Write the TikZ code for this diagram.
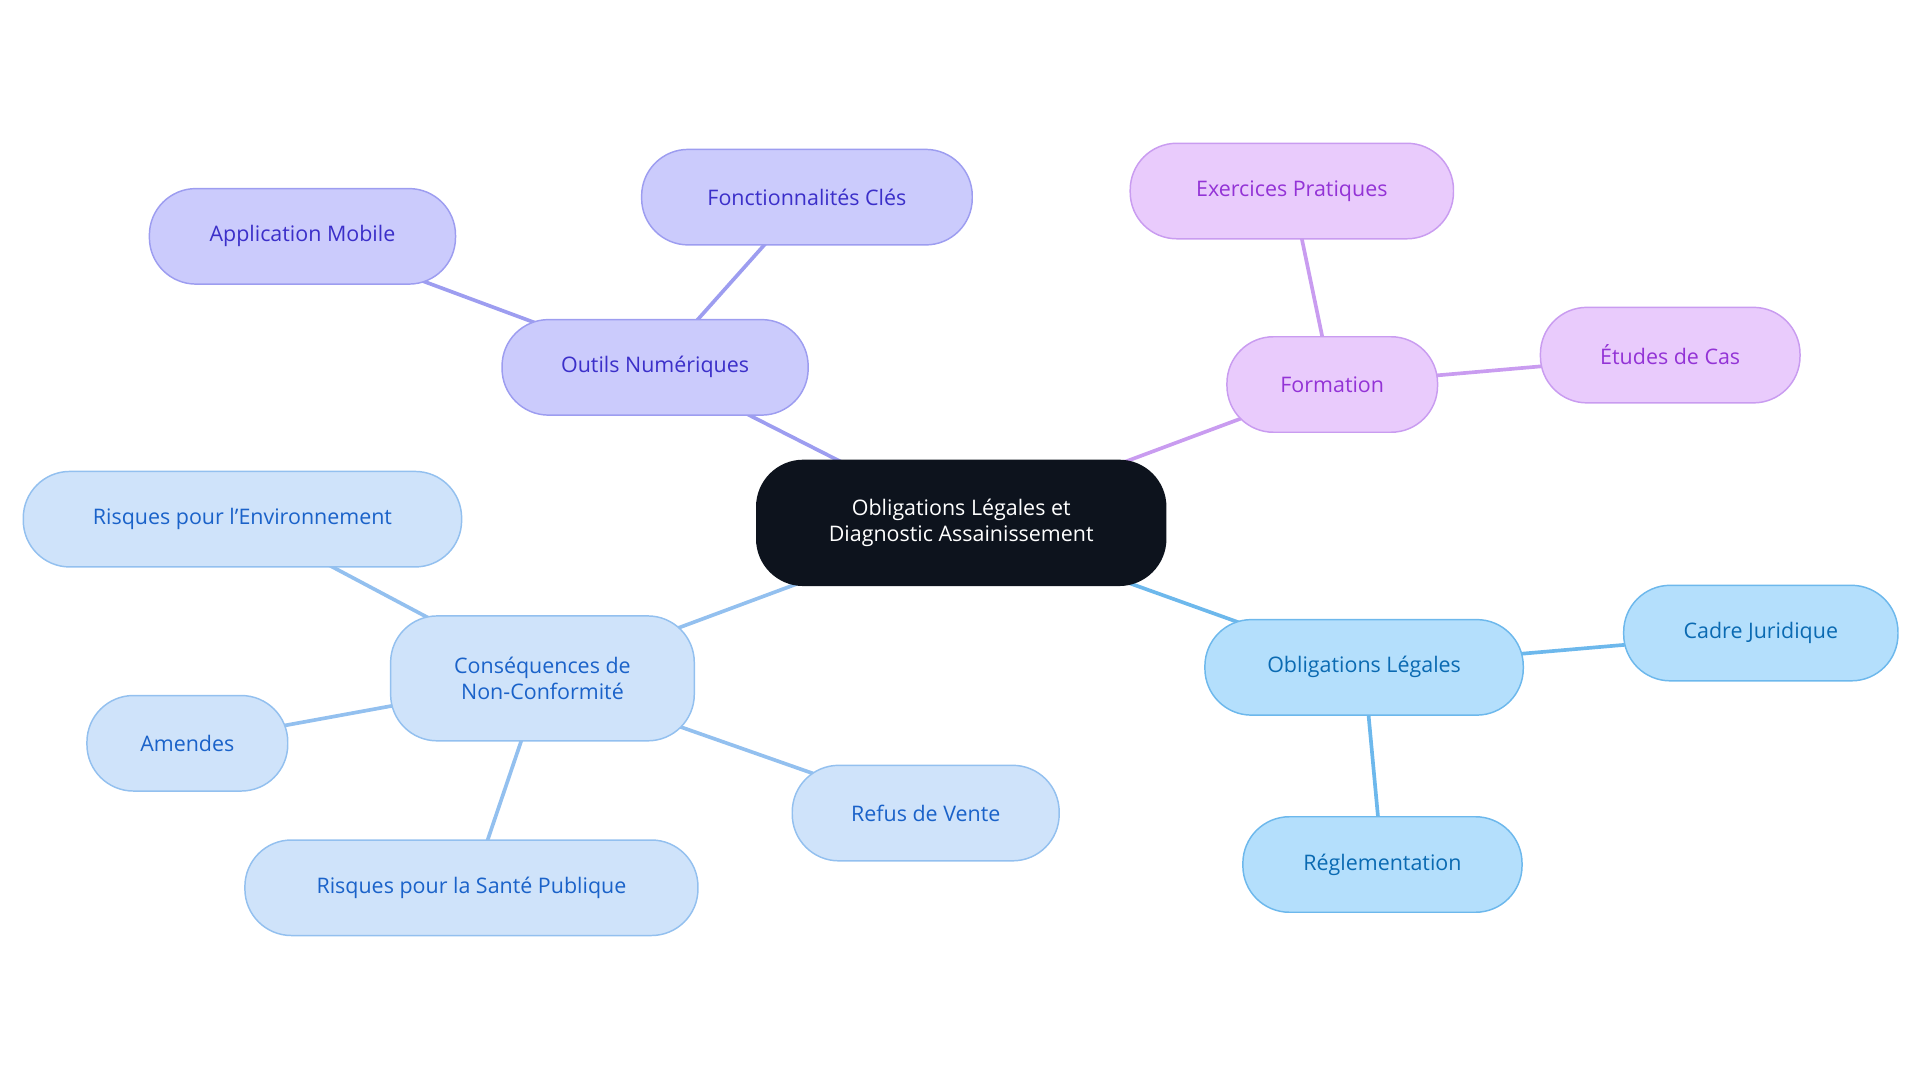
\documentclass[tikz,border=0pt]{standalone}
\usepackage{fontspec}
\setmainfont{Open Sans}
\usetikzlibrary{backgrounds}
\definecolor{cen}{HTML}{0D131D}
\definecolor{pf}{HTML}{CBCBFC}\definecolor{pb}{HTML}{9D9DF0}\definecolor{pt}{HTML}{3B2FC9}
\definecolor{mf}{HTML}{E9CBFC}\definecolor{mb}{HTML}{C99CF0}\definecolor{mt}{HTML}{9333D6}
\definecolor{lf}{HTML}{CFE3FA}\definecolor{lb}{HTML}{93C0EF}\definecolor{lt}{HTML}{1A62C9}
\definecolor{bf}{HTML}{B4DFFC}\definecolor{bb}{HTML}{6DB8EC}\definecolor{bt}{HTML}{0A6AB2}
\begin{document}
\begin{tikzpicture}[x=1pt,y=-1pt,
  box/.style={rounded corners=38pt,draw,line width=1.2pt,align=center,font=\fontsize{17.5}{22}\selectfont,inner sep=0pt},
  pbox/.style={box,fill=pf,draw=pb,text=pt},
  mbox/.style={box,fill=mf,draw=mb,text=mt},
  lbox/.style={box,fill=lf,draw=lb,text=lt},
  bbox/.style={box,fill=bf,draw=bb,text=bt},
  pe/.style={draw=pb,line width=3pt},me/.style={draw=mb,line width=3pt},
  le/.style={draw=lb,line width=3pt},be/.style={draw=bb,line width=3pt}]
\useasboundingbox (0,0) rectangle (1568,884);
\node[box,fill=cen,draw=cen,text=white,minimum width=334pt,minimum height=102pt] (c) at (785,427) {Obligations Légales et\\Diagnostic Assainissement};
\node[pbox,minimum width=250pt,minimum height=78pt] (on) at (535,300) {Outils Numériques};
\node[pbox,minimum width=250pt,minimum height=78pt] (am) at (247,193) {Application Mobile};
\node[pbox,minimum width=270pt,minimum height=78pt] (fc) at (659,161) {Fonctionnalités Clés};
\node[mbox,minimum width=172pt,minimum height=78pt] (fo) at (1088,314) {Formation};
\node[mbox,minimum width=264pt,minimum height=78pt] (ep) at (1055,156) {Exercices Pratiques};
\node[mbox,minimum width=212pt,minimum height=78pt] (ed) at (1364,290) {Études de Cas};
\node[lbox,minimum width=248pt,minimum height=102pt] (co) at (443,554) {Conséquences de\\Non-Conformité};
\node[lbox,minimum width=358pt,minimum height=78pt] (re) at (198,424) {Risques pour l'Environnement};
\node[lbox,minimum width=164pt,minimum height=78pt] (a) at (153,607) {Amendes};
\node[lbox,minimum width=370pt,minimum height=78pt] (sp) at (385,725) {Risques pour la Santé Publique};
\node[lbox,minimum width=218pt,minimum height=78pt] (rv) at (756,664) {Refus de Vente};
\node[bbox,minimum width=260pt,minimum height=78pt] (ol) at (1114,545) {Obligations Légales};
\node[bbox,minimum width=224pt,minimum height=78pt] (cj) at (1438,517) {Cadre Juridique};
\node[bbox,minimum width=228pt,minimum height=78pt] (rg) at (1129,706) {Réglementation};
\begin{scope}[on background layer]
\draw[pe] (c.center) -- (on.center) (on.center) -- (am.center) (on.center) -- (fc.center);
\draw[me] (c.center) -- (fo.center) (fo.center) -- (ep.center) (fo.center) -- (ed.center);
\draw[le] (c.center) -- (co.center) (co.center) -- (re.center) (co.center) -- (a.center) (co.center) -- (sp.center) (co.center) -- (rv.center);
\draw[be] (c.center) -- (ol.center) (ol.center) -- (cj.center) (ol.center) -- (rg.center);
\end{scope}
\end{tikzpicture}
\end{document}
